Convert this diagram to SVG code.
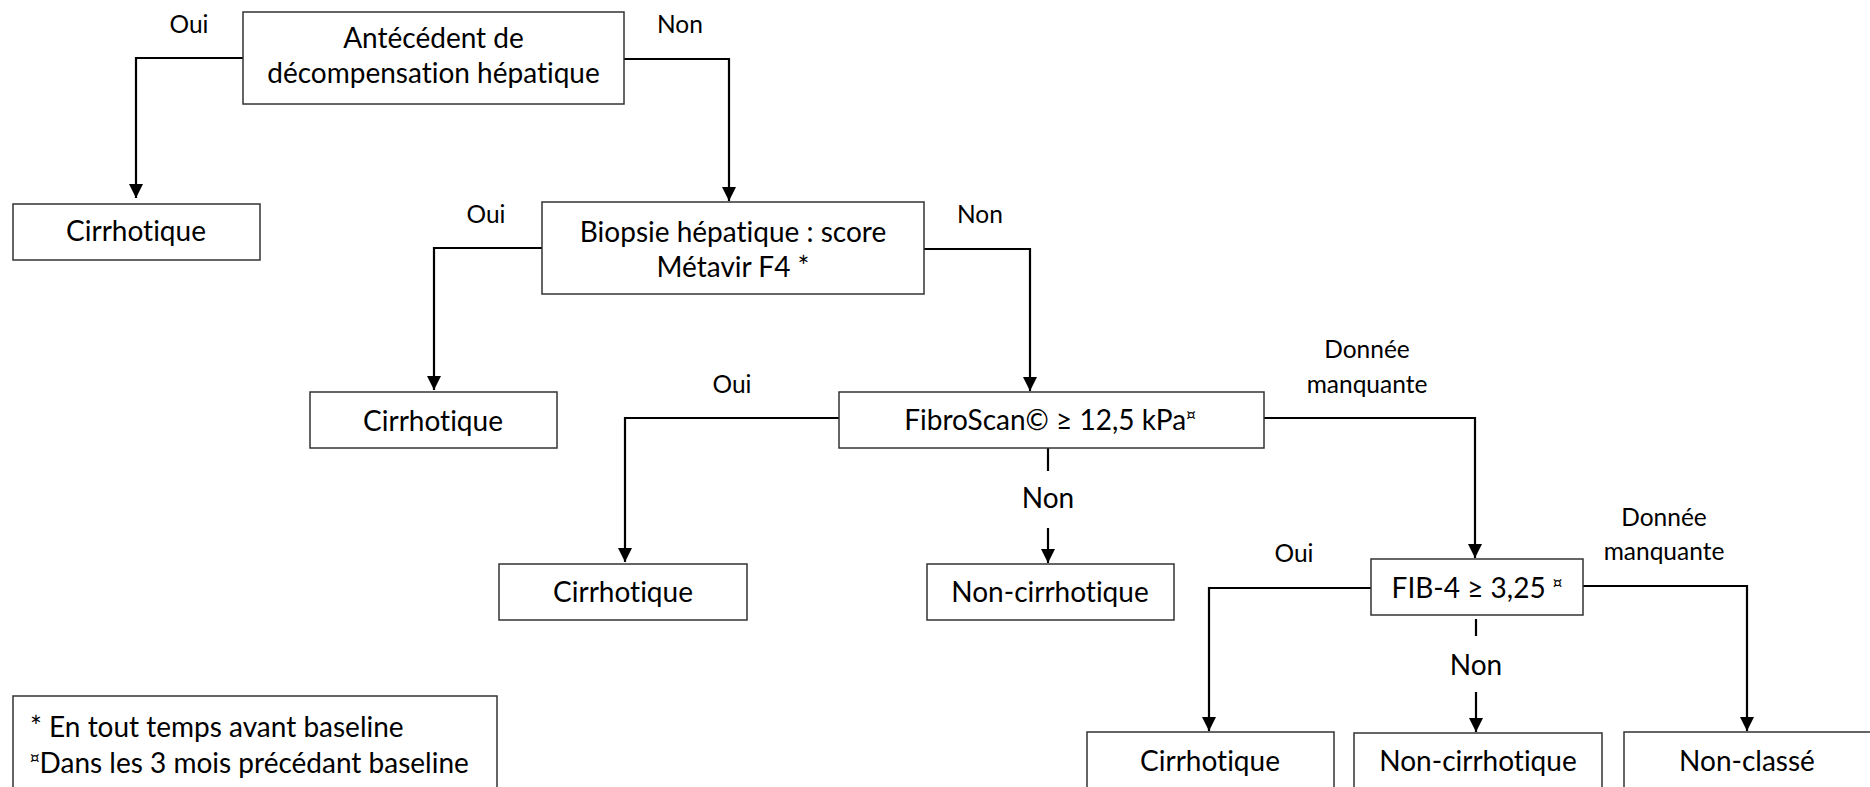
<svg xmlns="http://www.w3.org/2000/svg" width="1870" height="787" viewBox="0 0 1870 787">
<defs>
<marker id="arr" viewBox="0 0 14 14" markerWidth="14" markerHeight="14" refX="14" refY="7" orient="auto" markerUnits="userSpaceOnUse">
<path d="M0,0 L14,7 L0,14 Z" fill="#000"/>
</marker>
<style>
text{font-variant-ligatures:none}
.box{fill:#fff;stroke:#333;stroke-width:1.5}
.t{font-family:Lato,"Liberation Sans",sans-serif;font-size:28px;fill:#000;text-anchor:middle}
.l{font-family:Lato,"Liberation Sans",sans-serif;font-size:24.5px;fill:#000;text-anchor:middle}
.lg{font-family:Lato,"Liberation Sans",sans-serif;font-size:28px;fill:#000}
.s{font-family:"DejaVu Sans",sans-serif;font-size:15px}
.c{fill:none;stroke:#000;stroke-width:2.2}
.ca{fill:none;stroke:#000;stroke-width:2.2;marker-end:url(#arr)}
</style>
</defs>
<rect width="1870" height="787" fill="#fff"/>
<g id="connectors">
<path class="ca" d="M243,58 H136 V198"/>
<path class="ca" d="M624,59 H729 V201"/>
<path class="ca" d="M542,248 H434 V390"/>
<path class="ca" d="M924,249 H1030 V391"/>
<path class="ca" d="M839,418 H625 V562"/>
<path class="c" d="M1048,448 V471"/>
<path class="ca" d="M1048,528 V563"/>
<path class="ca" d="M1264,418 H1475 V558"/>
<path class="ca" d="M1371,588 H1209 V731"/>
<path class="c" d="M1476,619 V636"/>
<path class="ca" d="M1476,692 V732"/>
<path class="ca" d="M1583,586 H1747 V731"/>
</g>
<g id="labels">
<text class="l" x="189" y="33">Oui</text>
<text class="l" x="680" y="33">Non</text>
<text class="l" x="486" y="223">Oui</text>
<text class="l" x="980" y="223">Non</text>
<text class="l" x="732" y="393">Oui</text>
<text class="l" x="1367" y="358">Donnée</text>
<text class="l" x="1367" y="393">manquante</text>
<text class="t" x="1048" y="508">Non</text>
<text class="l" x="1294" y="562">Oui</text>
<text class="l" x="1664" y="526">Donnée</text>
<text class="l" x="1664" y="560">manquante</text>
<text class="t" x="1476" y="675">Non</text>
</g>
<g id="n-antecedent">
<rect class="box" x="243" y="12" width="381" height="92"/>
<text class="t" x="433.5" y="48">Antécédent de</text>
<text class="t" x="433.5" y="83">décompensation hépatique</text>
</g>
<g id="n-cirr1">
<rect class="box" x="13" y="204" width="247" height="56"/>
<text class="t" x="136" y="241">Cirrhotique</text>
</g>
<g id="n-biopsie">
<rect class="box" x="542" y="202" width="382" height="92"/>
<text class="t" x="733" y="242">Biopsie hépatique : score</text>
<text class="t" x="733" y="277">Métavir F4 *</text>
</g>
<g id="n-cirr2">
<rect class="box" x="310" y="392" width="247" height="56"/>
<text class="t" x="433" y="431">Cirrhotique</text>
</g>
<g id="n-fibroscan">
<rect class="box" x="839" y="392" width="425" height="56"/>
<text class="t" x="1050" y="430">FibroScan© ≥ 12,5 kPa<tspan class="s" dy="-10">¤</tspan></text>
</g>
<g id="n-cirr3">
<rect class="box" x="499" y="564" width="248" height="56"/>
<text class="t" x="623" y="602">Cirrhotique</text>
</g>
<g id="n-noncirr1">
<rect class="box" x="927" y="564" width="247" height="56"/>
<text class="t" x="1050" y="602">Non-cirrhotique</text>
</g>
<g id="n-fib4">
<rect class="box" x="1371" y="559" width="212" height="56"/>
<text class="t" x="1477" y="598">FIB-4 ≥ 3,25 <tspan class="s" dy="-10">¤</tspan></text>
</g>
<g id="n-cirr4">
<rect class="box" x="1087" y="732" width="247" height="56"/>
<text class="t" x="1210" y="771">Cirrhotique</text>
</g>
<g id="n-noncirr2">
<rect class="box" x="1354" y="733" width="248" height="56"/>
<text class="t" x="1478" y="771">Non-cirrhotique</text>
</g>
<g id="n-nonclasse">
<rect class="box" x="1624" y="732" width="248" height="56"/>
<text class="t" x="1747" y="771">Non-classé</text>
</g>
<g id="legend">
<rect class="box" x="13" y="696" width="484" height="100"/>
<text class="lg" x="30" y="737">* En tout temps avant baseline</text>
<text class="lg" x="30" y="773"><tspan class="s" dy="-10">¤</tspan><tspan dy="10">Dans les 3 mois précédant baseline</tspan></text>
</g>
</svg>
